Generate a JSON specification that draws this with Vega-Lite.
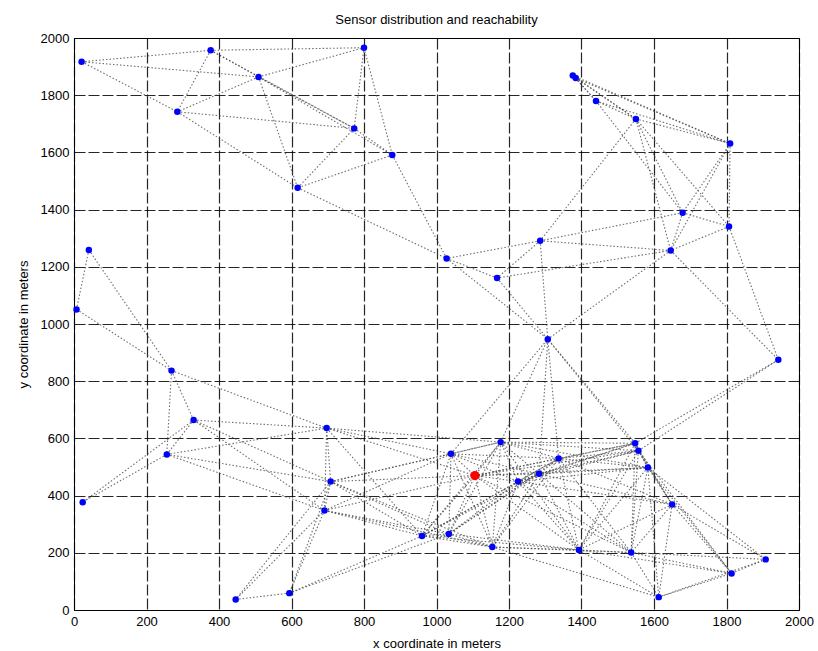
{
  "$schema": "https://vega.github.io/schema/vega-lite/v6.json",
  "autosize": {"type": "none"},
  "width": 725,
  "height": 572,
  "padding": {"left": 74, "top": 38, "right": 19, "bottom": 41},
  "background": "#ffffff",
  "title": {"text": "Sensor distribution and reachability", "fontSize": 13, "fontWeight": "normal", "font": "Liberation Sans", "color": "#000000", "offset": 5},
  "config": {
    "view": {"stroke": "#000000", "strokeWidth": 1},
    "axis": {
      "grid": true, "gridColor": "#000000", "gridDash": [11, 3], "gridWidth": 1.2, "gridOpacity": 0.85,
      "domainColor": "#000000", "ticks": false, "labelFont": "Liberation Sans", "labelFontSize": 13, "labelColor": "#000000",
      "titleFont": "Liberation Sans", "titleFontSize": 13, "titleFontWeight": "normal", "titleColor": "#000000", "labelPadding": 5, "format": "d"
    }
  },
  "datasets": {
    "nodes": [
      {"id": "A", "x": 21, "y": 1917, "type": "sensor"},
      {"id": "B", "x": 377, "y": 1957, "type": "sensor"},
      {"id": "C", "x": 509, "y": 1864, "type": "sensor"},
      {"id": "D", "x": 800, "y": 1966, "type": "sensor"},
      {"id": "E", "x": 285, "y": 1742, "type": "sensor"},
      {"id": "F", "x": 773, "y": 1684, "type": "sensor"},
      {"id": "G", "x": 878, "y": 1591, "type": "sensor"},
      {"id": "H", "x": 617, "y": 1476, "type": "sensor"},
      {"id": "I", "x": 1376, "y": 1869, "type": "sensor"},
      {"id": "I2", "x": 1384, "y": 1860, "type": "sensor"},
      {"id": "J", "x": 1440, "y": 1780, "type": "sensor"},
      {"id": "K", "x": 1550, "y": 1717, "type": "sensor"},
      {"id": "L", "x": 1810, "y": 1631, "type": "sensor"},
      {"id": "M", "x": 1679, "y": 1389, "type": "sensor"},
      {"id": "N", "x": 1807, "y": 1341, "type": "sensor"},
      {"id": "O", "x": 41, "y": 1259, "type": "sensor"},
      {"id": "P", "x": 7, "y": 1051, "type": "sensor"},
      {"id": "Q", "x": 269, "y": 837, "type": "sensor"},
      {"id": "R", "x": 1028, "y": 1229, "type": "sensor"},
      {"id": "S", "x": 1286, "y": 1291, "type": "sensor"},
      {"id": "T", "x": 1167, "y": 1161, "type": "sensor"},
      {"id": "U", "x": 1646, "y": 1257, "type": "sensor"},
      {"id": "V", "x": 1307, "y": 947, "type": "sensor"},
      {"id": "W", "x": 1943, "y": 875, "type": "sensor"},
      {"id": "X", "x": 330, "y": 664, "type": "sensor"},
      {"id": "Y", "x": 697, "y": 636, "type": "sensor"},
      {"id": "Z", "x": 256, "y": 544, "type": "sensor"},
      {"id": "AA", "x": 708, "y": 449, "type": "sensor"},
      {"id": "AB", "x": 24, "y": 377, "type": "sensor"},
      {"id": "AC", "x": 691, "y": 348, "type": "sensor"},
      {"id": "AD", "x": 960, "y": 259, "type": "sensor"},
      {"id": "AE", "x": 446, "y": 37, "type": "sensor"},
      {"id": "AF", "x": 594, "y": 59, "type": "sensor"},
      {"id": "AG", "x": 1177, "y": 587, "type": "sensor"},
      {"id": "AH", "x": 1040, "y": 546, "type": "sensor"},
      {"id": "RED", "x": 1106, "y": 470, "type": "sink"},
      {"id": "AI", "x": 1337, "y": 530, "type": "sensor"},
      {"id": "AJ", "x": 1283, "y": 476, "type": "sensor"},
      {"id": "AK", "x": 1225, "y": 449, "type": "sensor"},
      {"id": "AL", "x": 1548, "y": 583, "type": "sensor"},
      {"id": "AM", "x": 1557, "y": 557, "type": "sensor"},
      {"id": "AN", "x": 1583, "y": 498, "type": "sensor"},
      {"id": "AO", "x": 1650, "y": 369, "type": "sensor"},
      {"id": "AP", "x": 1034, "y": 266, "type": "sensor"},
      {"id": "AQ", "x": 1154, "y": 220, "type": "sensor"},
      {"id": "AR", "x": 1393, "y": 210, "type": "sensor"},
      {"id": "AS", "x": 1537, "y": 201, "type": "sensor"},
      {"id": "AT", "x": 1908, "y": 177, "type": "sensor"},
      {"id": "AU", "x": 1814, "y": 128, "type": "sensor"},
      {"id": "AV", "x": 1613, "y": 45, "type": "sensor"}
    ],
    "edges": [
      {"s": "A", "t": "B"}, {"s": "A", "t": "C"}, {"s": "A", "t": "E"}, {"s": "B", "t": "C"}, {"s": "B", "t": "D"},
      {"s": "B", "t": "E"}, {"s": "B", "t": "F"}, {"s": "C", "t": "D"}, {"s": "C", "t": "E"}, {"s": "C", "t": "F"},
      {"s": "C", "t": "G"}, {"s": "C", "t": "H"}, {"s": "D", "t": "F"}, {"s": "D", "t": "G"}, {"s": "E", "t": "F"},
      {"s": "E", "t": "H"}, {"s": "F", "t": "G"}, {"s": "F", "t": "H"}, {"s": "G", "t": "H"}, {"s": "G", "t": "R"},
      {"s": "H", "t": "R"},
      {"s": "I", "t": "J"}, {"s": "I", "t": "K"}, {"s": "I", "t": "L"}, {"s": "I2", "t": "J"}, {"s": "I2", "t": "K"},
      {"s": "I2", "t": "L"}, {"s": "J", "t": "K"}, {"s": "J", "t": "L"}, {"s": "J", "t": "M"}, {"s": "K", "t": "L"},
      {"s": "K", "t": "M"}, {"s": "K", "t": "N"}, {"s": "K", "t": "U"}, {"s": "K", "t": "S"}, {"s": "L", "t": "M"},
      {"s": "L", "t": "N"}, {"s": "L", "t": "U"}, {"s": "M", "t": "N"}, {"s": "M", "t": "U"}, {"s": "M", "t": "S"},
      {"s": "N", "t": "U"}, {"s": "N", "t": "W"}, {"s": "U", "t": "S"}, {"s": "U", "t": "T"}, {"s": "U", "t": "V"},
      {"s": "U", "t": "W"}, {"s": "S", "t": "R"}, {"s": "S", "t": "T"}, {"s": "S", "t": "V"}, {"s": "T", "t": "R"},
      {"s": "T", "t": "V"}, {"s": "R", "t": "V"},
      {"s": "O", "t": "P"}, {"s": "O", "t": "Q"}, {"s": "P", "t": "Q"}, {"s": "Q", "t": "X"}, {"s": "Q", "t": "Z"},
      {"s": "Q", "t": "Y"}, {"s": "X", "t": "Z"}, {"s": "X", "t": "AB"}, {"s": "X", "t": "Y"}, {"s": "X", "t": "AA"},
      {"s": "X", "t": "AC"}, {"s": "Z", "t": "AB"}, {"s": "Z", "t": "Y"}, {"s": "Z", "t": "AA"}, {"s": "Z", "t": "AC"},
      {"s": "Y", "t": "AA"}, {"s": "Y", "t": "AC"}, {"s": "Y", "t": "AD"}, {"s": "Y", "t": "AH"}, {"s": "Y", "t": "AG"},
      {"s": "Y", "t": "RED"},
      {"s": "AA", "t": "AC"}, {"s": "AA", "t": "AD"}, {"s": "AA", "t": "AE"}, {"s": "AA", "t": "AF"}, {"s": "AA", "t": "AG"},
      {"s": "AA", "t": "AH"}, {"s": "AA", "t": "RED"}, {"s": "AA", "t": "AP"}, {"s": "AA", "t": "AQ"},
      {"s": "AC", "t": "AD"}, {"s": "AC", "t": "AE"}, {"s": "AC", "t": "AF"}, {"s": "AC", "t": "AH"}, {"s": "AC", "t": "RED"},
      {"s": "AC", "t": "AP"}, {"s": "AC", "t": "AQ"},
      {"s": "AD", "t": "AF"}, {"s": "AD", "t": "AG"}, {"s": "AD", "t": "AH"}, {"s": "AD", "t": "RED"}, {"s": "AD", "t": "AI"},
      {"s": "AD", "t": "AJ"}, {"s": "AD", "t": "AK"}, {"s": "AD", "t": "AP"}, {"s": "AD", "t": "AQ"}, {"s": "AD", "t": "AR"},
      {"s": "AE", "t": "AF"}, {"s": "AF", "t": "AP"},
      {"s": "AG", "t": "AH"}, {"s": "AG", "t": "RED"}, {"s": "AG", "t": "AI"}, {"s": "AG", "t": "AJ"}, {"s": "AG", "t": "AK"},
      {"s": "AG", "t": "AL"}, {"s": "AG", "t": "AM"}, {"s": "AG", "t": "AN"}, {"s": "AG", "t": "AP"}, {"s": "AG", "t": "AQ"},
      {"s": "AG", "t": "AR"}, {"s": "AG", "t": "V"},
      {"s": "AH", "t": "RED"}, {"s": "AH", "t": "AI"}, {"s": "AH", "t": "AJ"}, {"s": "AH", "t": "AK"}, {"s": "AH", "t": "AP"},
      {"s": "AH", "t": "AQ"}, {"s": "AH", "t": "V"},
      {"s": "RED", "t": "AI"}, {"s": "RED", "t": "AJ"}, {"s": "RED", "t": "AK"}, {"s": "RED", "t": "AL"}, {"s": "RED", "t": "AM"},
      {"s": "RED", "t": "AN"}, {"s": "RED", "t": "AP"}, {"s": "RED", "t": "AQ"}, {"s": "RED", "t": "AR"}, {"s": "RED", "t": "AS"},
      {"s": "AI", "t": "AJ"}, {"s": "AI", "t": "AK"}, {"s": "AI", "t": "AL"}, {"s": "AI", "t": "AM"}, {"s": "AI", "t": "AN"},
      {"s": "AI", "t": "AO"}, {"s": "AI", "t": "AP"}, {"s": "AI", "t": "AQ"}, {"s": "AI", "t": "AR"}, {"s": "AI", "t": "AS"},
      {"s": "AI", "t": "V"},
      {"s": "AJ", "t": "AK"}, {"s": "AJ", "t": "AL"}, {"s": "AJ", "t": "AM"}, {"s": "AJ", "t": "AN"}, {"s": "AJ", "t": "AO"},
      {"s": "AJ", "t": "AP"}, {"s": "AJ", "t": "AQ"}, {"s": "AJ", "t": "AR"}, {"s": "AJ", "t": "AS"}, {"s": "AJ", "t": "V"},
      {"s": "AK", "t": "AL"}, {"s": "AK", "t": "AM"}, {"s": "AK", "t": "AN"}, {"s": "AK", "t": "AO"}, {"s": "AK", "t": "AP"},
      {"s": "AK", "t": "AQ"}, {"s": "AK", "t": "AR"}, {"s": "AK", "t": "AS"},
      {"s": "AL", "t": "AM"}, {"s": "AL", "t": "AN"}, {"s": "AL", "t": "AO"}, {"s": "AL", "t": "AR"}, {"s": "AL", "t": "AS"},
      {"s": "AL", "t": "V"}, {"s": "AL", "t": "W"},
      {"s": "AM", "t": "AN"}, {"s": "AM", "t": "AO"}, {"s": "AM", "t": "AR"}, {"s": "AM", "t": "AS"}, {"s": "AM", "t": "AU"},
      {"s": "AM", "t": "V"}, {"s": "AM", "t": "W"},
      {"s": "AN", "t": "AO"}, {"s": "AN", "t": "AR"}, {"s": "AN", "t": "AS"}, {"s": "AN", "t": "AT"}, {"s": "AN", "t": "AU"},
      {"s": "AN", "t": "AV"},
      {"s": "AO", "t": "AR"}, {"s": "AO", "t": "AS"}, {"s": "AO", "t": "AT"}, {"s": "AO", "t": "AU"}, {"s": "AO", "t": "AV"},
      {"s": "AP", "t": "AQ"}, {"s": "AP", "t": "AR"},
      {"s": "AQ", "t": "AR"}, {"s": "AQ", "t": "AS"}, {"s": "AQ", "t": "AV"},
      {"s": "AR", "t": "AS"}, {"s": "AR", "t": "AU"}, {"s": "AR", "t": "AV"},
      {"s": "AS", "t": "AT"}, {"s": "AS", "t": "AU"}, {"s": "AS", "t": "AV"},
      {"s": "AT", "t": "AU"}, {"s": "AT", "t": "AV"}, {"s": "AU", "t": "AV"}
    ]
  },
  "layer": [
    {
      "data": {"name": "edges"},
      "transform": [
        {"lookup": "s", "from": {"data": {"name": "nodes"}, "key": "id", "fields": ["x", "y"]}, "as": ["sx", "sy"]},
        {"lookup": "t", "from": {"data": {"name": "nodes"}, "key": "id", "fields": ["x", "y"]}, "as": ["tx", "ty"]}
      ],
      "mark": {"type": "rule", "color": "#4a4a4a", "strokeWidth": 1.1, "strokeDash": [1.5, 2], "opacity": 0.8},
      "encoding": {
        "x": {"field": "sx", "type": "quantitative", "scale": {"domain": [0, 2000], "nice": false},
              "axis": {"values": [0, 200, 400, 600, 800, 1000, 1200, 1400, 1600, 1800, 2000], "title": "x coordinate in meters", "titlePadding": 9, "labelFlush": false}},
        "y": {"field": "sy", "type": "quantitative", "scale": {"domain": [0, 2000], "nice": false},
              "axis": {"values": [0, 200, 400, 600, 800, 1000, 1200, 1400, 1600, 1800, 2000], "title": "y coordinate in meters", "titlePadding": 10, "labelFlush": false}},
        "x2": {"field": "tx"},
        "y2": {"field": "ty"}
      }
    },
    {
      "data": {"name": "nodes"},
      "mark": {"type": "point", "filled": true, "opacity": 1},
      "encoding": {
        "x": {"field": "x", "type": "quantitative"},
        "y": {"field": "y", "type": "quantitative"},
        "color": {"field": "type", "type": "nominal", "scale": {"domain": ["sensor", "sink"], "range": ["#0000ff", "#ff0000"]}, "legend": null},
        "size": {"field": "type", "type": "nominal", "scale": {"domain": ["sensor", "sink"], "range": [42, 85]}, "legend": null},
        "order": {"field": "type", "sort": "ascending"}
      }
    }
  ]
}
